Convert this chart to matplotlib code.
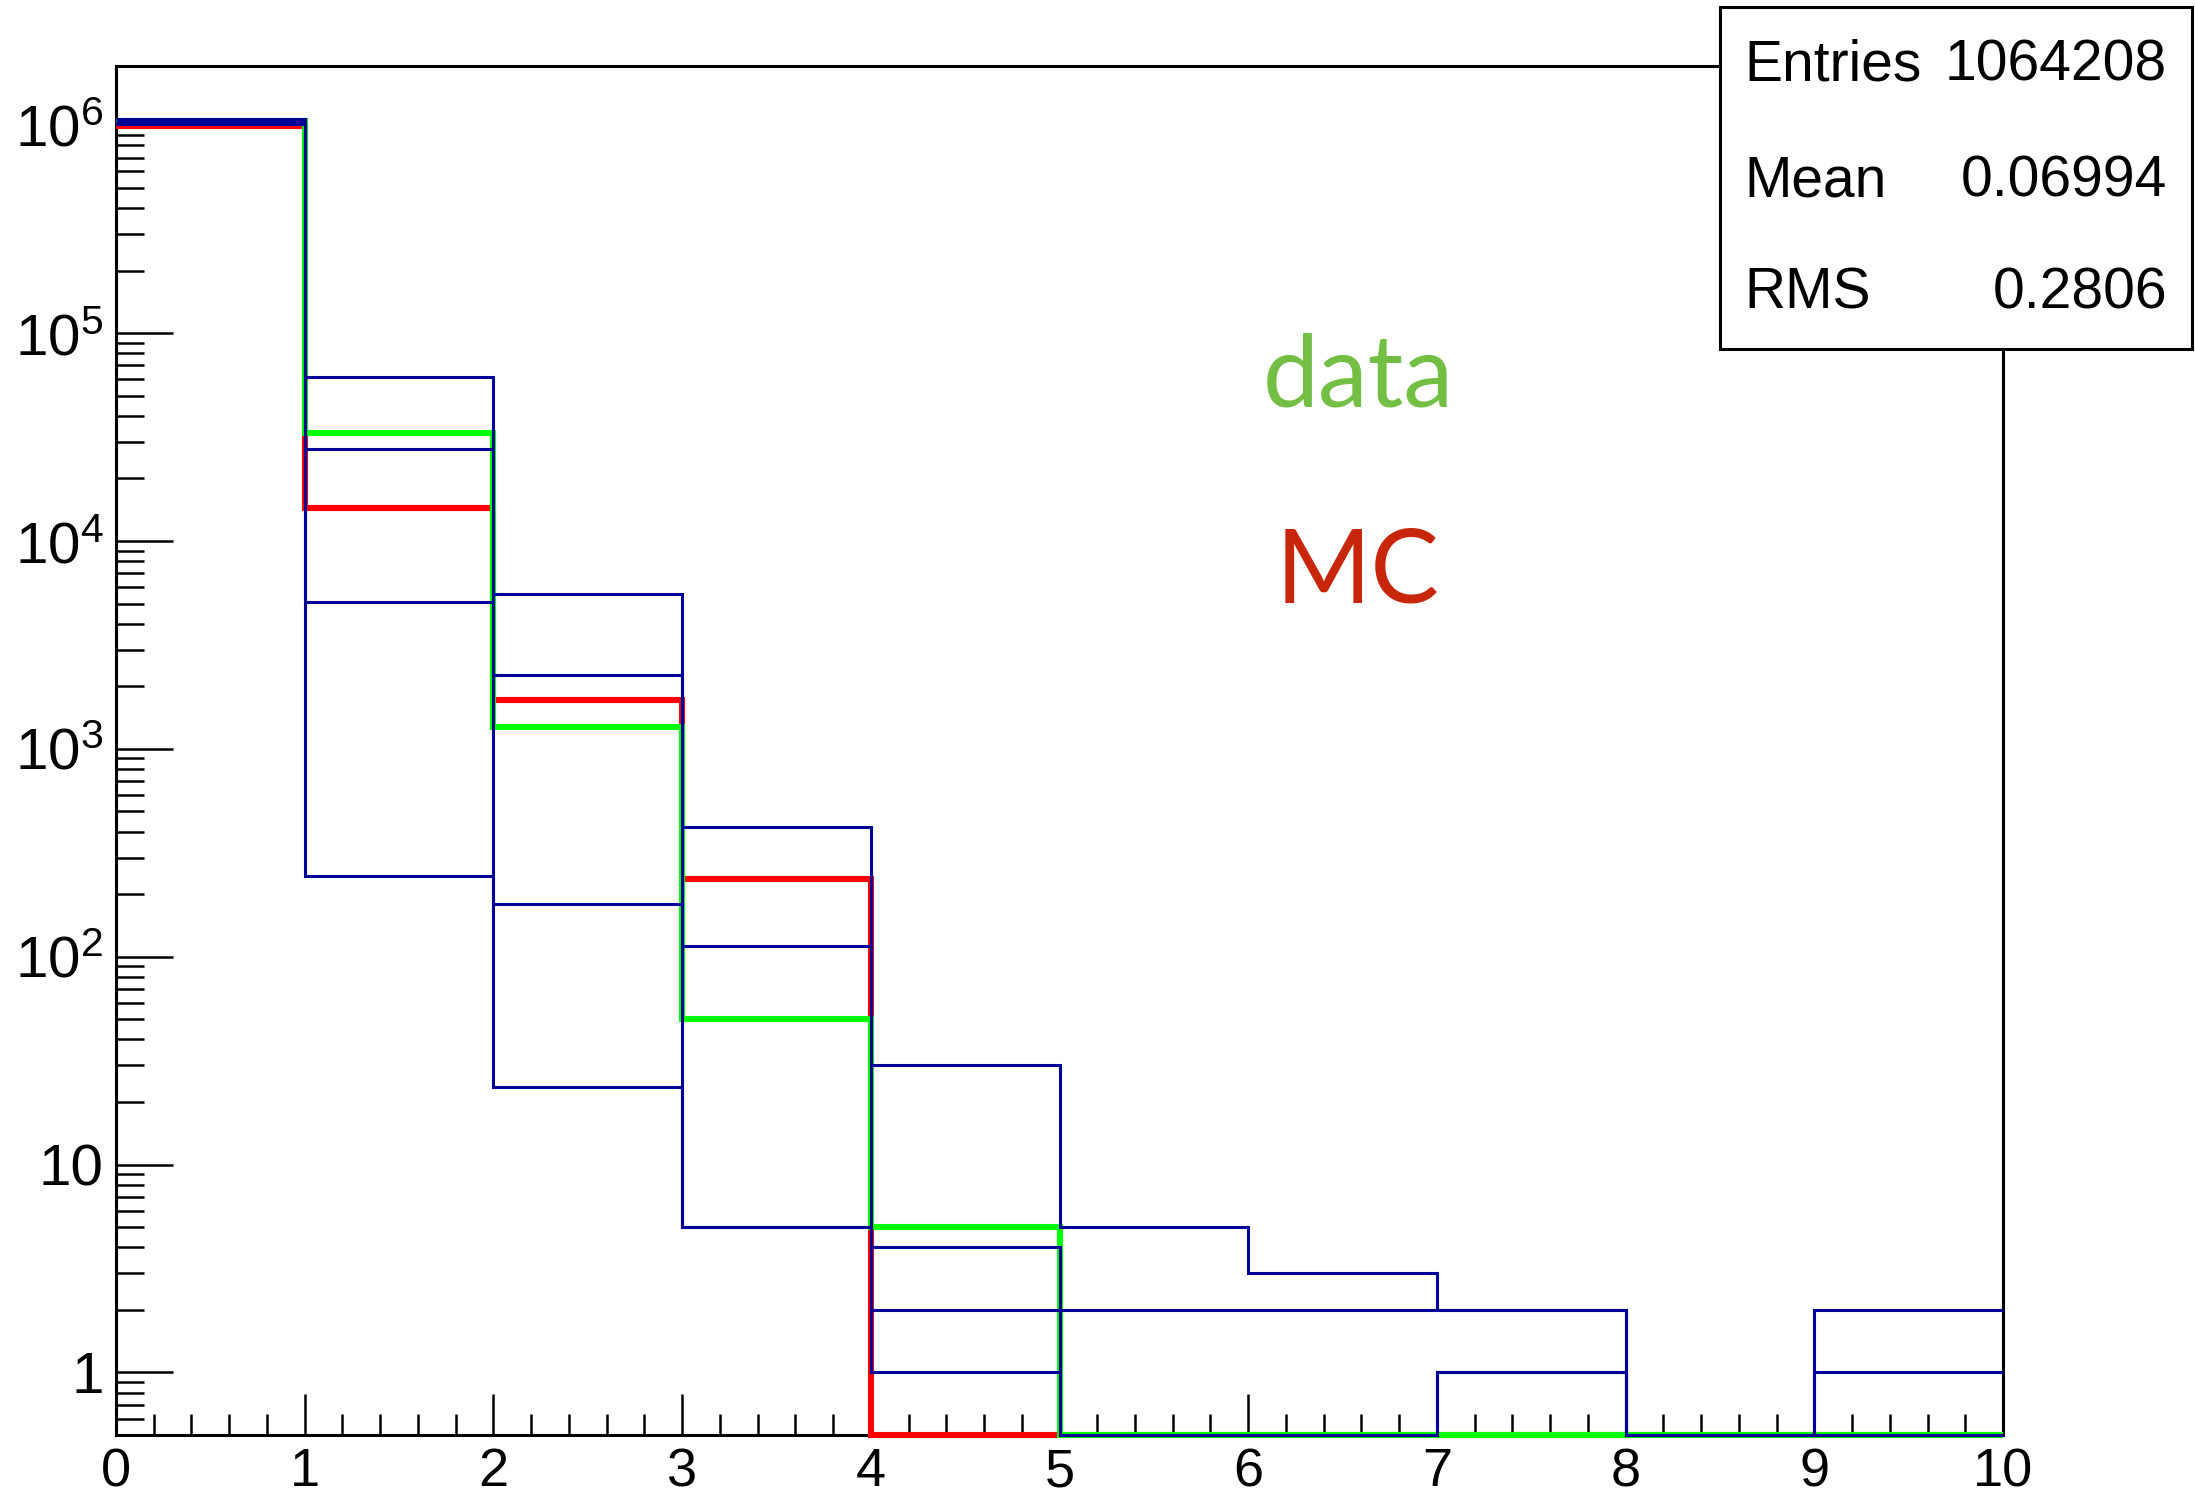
import numpy as np
import matplotlib
matplotlib.use("Agg")
import matplotlib.pyplot as plt
from matplotlib.patches import Rectangle
from matplotlib.ticker import FixedLocator, FixedFormatter, MultipleLocator

# ---- data -------------------------------------------------------------
bin_edges = np.arange(0, 11)  # integer multiplicity bins 0..10

# simulated variants (drawn in dark blue)
variant_a = [1.02e6, 61860, 5565, 420, 30, 5, 3, 2, 0, 0]
variant_b = [1.03e6, 27800, 2270, 112, 4, 0, 0, 1, 0, 0]
variant_c = [1.06e6, 5100, 180, 5, 2, 2, 2, 2, 0, 2]
variant_d = [1.07e6, 245, 23.5, 5, 1, 0, 0, 1, 0, 1]

data_counts = [1.05e6, 33000, 1280, 50, 5, 0, 0, 0, 0, 0]
mc_counts = [0.99e6, 14450, 1725, 236, 0, 0, 0, 0, 0, 0]

y_tick_values = [1, 10, 1e2, 1e3, 1e4, 1e5, 1e6]
y_tick_labels = ["1", "10", r"$10^{2}$", r"$10^{3}$", r"$10^{4}$",
                 r"$10^{5}$", r"$10^{6}$"]
x_tick_values = list(range(0, 11))
x_tick_labels = [str(v) for v in x_tick_values]

stats_names = ["Entries", "Mean", "RMS"]
stats_values = ["1064208", "0.06994", "0.2806"]

y_min, y_max = 0.5, 1.93e6

# ---- style ------------------------------------------------------------
plt.rcParams["font.family"] = ["Liberation Sans", "DejaVu Sans"]
plt.rcParams["mathtext.fontset"] = "custom"
plt.rcParams["mathtext.rm"] = "Liberation Sans"
plt.rcParams["mathtext.it"] = "Liberation Sans:italic"
plt.rcParams["mathtext.bf"] = "Liberation Sans:bold"

BLUE = "#000099"
GREEN = "#00ff00"
RED = "#ff0000"

fig = plt.figure(figsize=(21.95, 14.98), dpi=100)
ax = fig.add_axes([0.05285, 0.04206, 0.8597, 0.9139])


def draw_hist(counts, color, lw):
    # empty bins sit on the bottom edge of the frame, as in ROOT
    vals = np.clip(np.asarray(counts, dtype=float), y_min, None)
    ax.stairs(vals, bin_edges, baseline=None, color=color, linewidth=lw,
              zorder=3, clip_on=False)


draw_hist(mc_counts, RED, 4.4)
draw_hist(data_counts, GREEN, 4.4)
for v in (variant_a, variant_b, variant_c, variant_d):
    draw_hist(v, BLUE, 2.2)

ax.set_yscale("log")
ax.set_xlim(0, 10)
ax.set_ylim(y_min, y_max)

ax.yaxis.set_major_locator(FixedLocator(y_tick_values))
ax.yaxis.set_major_formatter(FixedFormatter(y_tick_labels))
minor_y = [m * 10.0 ** k for k in range(-1, 7) for m in range(2, 10)]
ax.yaxis.set_minor_locator(FixedLocator(minor_y))
ax.yaxis.set_minor_formatter(FixedFormatter([""] * len(minor_y)))

ax.xaxis.set_major_locator(FixedLocator(x_tick_values))
ax.xaxis.set_major_formatter(FixedFormatter(x_tick_labels))
ax.xaxis.set_minor_locator(MultipleLocator(0.2))

ax.tick_params(axis="both", which="both", direction="in", top=False,
               right=False, colors="black", width=1.8)
ax.tick_params(axis="y", which="major", length=41, pad=9, labelsize=42)
ax.tick_params(axis="y", which="minor", length=20.5)
ax.tick_params(axis="x", which="major", length=29.5, pad=9, labelsize=39)
ax.tick_params(axis="x", which="minor", length=14.8)

for side in ax.spines.values():
    side.set_linewidth(2.2)
    side.set_color("black")

# annotation labels
fig.text(0.6187, 0.7477, "data", color="#72bf44", fontsize=72,
         family=["Lato", "DejaVu Sans"], ha="center", va="center")
fig.text(0.6187, 0.617, "MC", color="#c8260a", fontsize=74,
         family=["Lato", "DejaVu Sans"], ha="center", va="center")

# statistics box
box = Rectangle((0.7836, 0.767), 0.9986 - 0.7836, 0.9953 - 0.767,
                transform=fig.transFigure, facecolor="white",
                edgecolor="black", linewidth=2.2, zorder=10)
fig.add_artist(box)
row_y = [0.956, 0.879, 0.804]
for name, val, yy in zip(stats_names, stats_values, row_y):
    fig.text(0.7945, yy, name, fontsize=41, ha="left", va="center",
             zorder=11)
    fig.text(0.9872, yy, val, fontsize=41, ha="right", va="center",
             zorder=11)

fig.savefig("out.png", dpi=100, facecolor="white")
